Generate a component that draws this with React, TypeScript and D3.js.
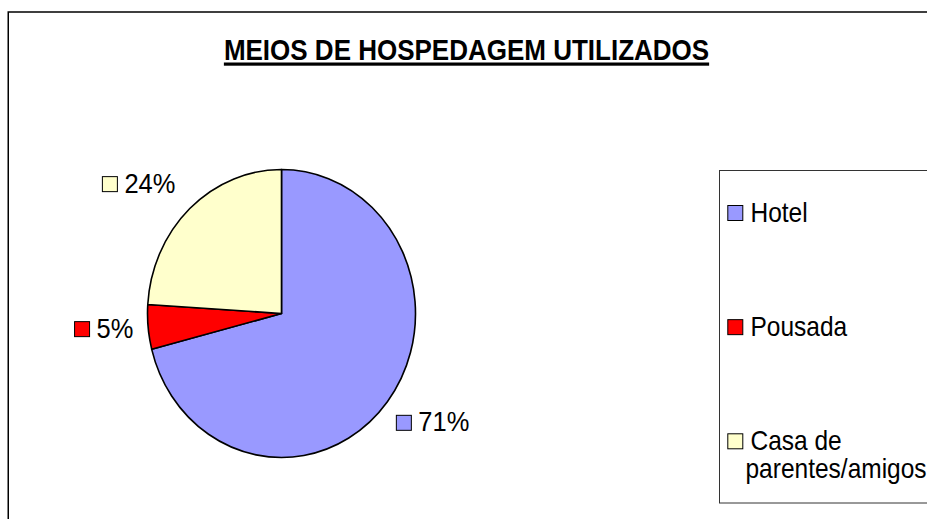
import React, { useEffect, useRef } from "react";
import * as d3 from "d3";

const title = "MEIOS DE HOSPEDAGEM UTILIZADOS";
const categories = ["Hotel", "Pousada", "Casa de parentes/amigos"];
const legendLines = [["Hotel"], ["Pousada"], ["Casa de", "parentes/amigos"]];
const values = [71, 5, 24];
const labels = ["71%", "5%", "24%"];
const colors = ["#9999FF", "#FF0000", "#FFFFCC"];
// small label nudges (px) relative to the computed anchor point
const labelNudge = [
  [0, 6],
  [-3, 1],
  [-6, -8],
];

export default function App() {
  const ref = useRef<SVGSVGElement | null>(null);

  useEffect(() => {
    const svg = d3.select(ref.current);
    svg.selectAll("*").remove();
    const font = "'Liberation Sans', Arial, sans-serif";
    const sy = 1.1;

    // outer chart border
    svg
      .append("rect")
      .attr("x", 8.25)
      .attr("y", 12)
      .attr("width", 1200)
      .attr("height", 1200)
      .attr("fill", "#fff")
      .attr("stroke", "#000")
      .attr("stroke-width", 1.5);

    // title
    const tg = svg.append("g").attr("transform", "translate(466.5,59.5) scale(1,1.13)");
    const tt = tg
      .append("text")
      .attr("text-anchor", "middle")
      .attr("font-family", font)
      .attr("font-weight", "bold")
      .attr("font-size", 26)
      .attr("fill", "#000")
      .text(title);
    const tw = (tt.node() as SVGTextElement).getComputedTextLength();
    svg
      .append("rect")
      .attr("x", 466.5 - tw / 2)
      .attr("y", 62.5)
      .attr("width", tw)
      .attr("height", 3.2)
      .attr("fill", "#000");

    // pie
    const cx = 281.5;
    const cy = 313.5;
    const ry = 144;
    const rx = 134;
    const pie = d3
      .pie<number>()
      .sort(null)
      .startAngle(0)
      .endAngle(2 * Math.PI)
      .value((d) => d);
    const arcs = pie(values);
    const arc = d3.arc<d3.PieArcDatum<number>>().innerRadius(0).outerRadius(ry);
    const pg = svg
      .append("g")
      .attr("transform", `translate(${cx},${cy}) scale(${rx / ry},1)`);
    pg.selectAll("path")
      .data(arcs)
      .join("path")
      .attr("d", arc)
      .attr("fill", (_, i) => colors[i])
      .attr("stroke", "#000")
      .attr("stroke-width", 1.6)
      .attr("vector-effect", "non-scaling-stroke")
      .attr("stroke-linejoin", "round");

    // data labels
    const box = 16;
    const gap = 7.5;
    arcs.forEach((a, i) => {
      const mid = (a.startAngle + a.endAngle) / 2;
      const s = Math.sin(mid);
      const c = Math.cos(mid);
      const px = cx + rx * 1.08 * s + labelNudge[i][0];
      const py = cy - ry * 1.08 * c + labelNudge[i][1];
      const g = svg.append("g");
      const tgl = g.append("g");
      const t = tgl
        .append("text")
        .attr("font-family", font)
        .attr("font-size", 25.5)
        .attr("fill", "#000")
        .text(labels[i]);
      const w = (t.node() as SVGTextElement).getComputedTextLength();
      const total = box + gap + w;
      const left = s >= 0 ? px : px - total;
      let boxTop: number;
      if (Math.abs(c) < 0.2) boxTop = py - box / 2;
      else if (c > 0) boxTop = py - box;
      else boxTop = py;
      g.append("rect")
        .attr("x", left + 0.5)
        .attr("y", boxTop + 0.5)
        .attr("width", box - 1)
        .attr("height", box - 1)
        .attr("fill", colors[i])
        .attr("stroke", "#000")
        .attr("stroke-width", 1);
      tgl.attr(
        "transform",
        `translate(${left + box + gap - 1},${boxTop + box + 0.5}) scale(1,${sy})`
      );
    });

    // legend
    svg
      .append("rect")
      .attr("x", 719.5)
      .attr("y", 170.5)
      .attr("width", 400)
      .attr("height", 332.5)
      .attr("fill", "#fff")
      .attr("stroke", "#333")
      .attr("stroke-width", 1);
    const legendY = d3
      .scalePoint<string>()
      .domain(categories)
      .range([205, 433.3]);
    categories.forEach((cat, i) => {
      const y = legendY(cat) as number;
      svg
        .append("rect")
        .attr("x", 727.8)
        .attr("y", y + 0.5)
        .attr("width", 15)
        .attr("height", 15)
        .attr("fill", colors[i])
        .attr("stroke", "#000")
        .attr("stroke-width", 1);
      legendLines[i].forEach((ln, j) => {
        svg
          .append("g")
          .attr(
            "transform",
            `translate(${j === 0 ? 750.5 : 745.5},${y + 16.5 + j * 28.5}) scale(1,${sy})`
          )
          .append("text")
          .attr("font-family", font)
          .attr("font-size", 24.5)
          .attr("fill", "#000")
          .text(ln);
      });
    });
  }, []);

  return (
    <svg
      ref={ref}
      width={927}
      height={519}
      style={{ position: "absolute", left: 0, top: 0, overflow: "hidden", background: "#fff" }}
    />
  );
}
